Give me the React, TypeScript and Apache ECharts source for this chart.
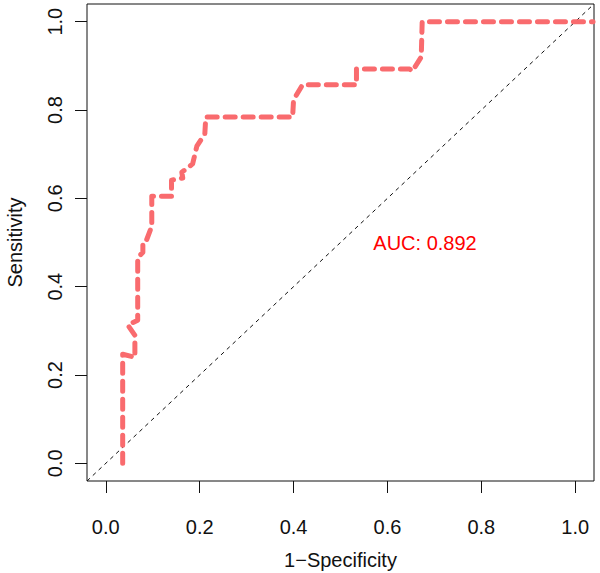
import React, { useEffect, useRef } from "react";
import * as echarts from "echarts";

// ROC curve points (1 - specificity, sensitivity), in drawing order
const fpr = [
  0.036, 0.036, 0.062, 0.062, 0.047, 0.068, 0.068, 0.079, 0.079, 0.087,
  0.098, 0.098, 0.14, 0.14, 0.164, 0.162, 0.185, 0.194, 0.211, 0.213,
  0.398, 0.4, 0.419, 0.534, 0.534, 0.647, 0.653, 0.672, 0.674, 1.038,
];
const tpr = [
  0.0, 0.247, 0.24, 0.29, 0.313, 0.324, 0.465, 0.478, 0.501, 0.506,
  0.537, 0.605, 0.605, 0.641, 0.646, 0.659, 0.678, 0.718, 0.746, 0.784,
  0.784, 0.823, 0.857, 0.857, 0.893, 0.893, 0.888, 0.92, 1.0, 1.0,
];

const xTicks = [0, 0.2, 0.4, 0.6, 0.8, 1.0];
const yTicks = [0, 0.2, 0.4, 0.6, 0.8, 1.0];

const auc = 0.892;
const aucPos = [0.68, 0.5];

// plot region spans the data range plus 4% on each side
const lo = -0.04;
const hi = 1.04;

const FONT = "'Liberation Sans', Arial, Helvetica, sans-serif";

export default function App() {
  const ref = useRef<HTMLDivElement>(null);

  useEffect(() => {
    if (!ref.current) return;
    const chart = echarts.init(ref.current, null, { renderer: "svg" });

    const left = 87;
    const top = 4;
    const width = 507;
    const height = 477;

    const axisCommon = {
      type: "value" as const,
      min: lo,
      max: hi,
      axisLine: { show: false, onZero: false },
      splitLine: { show: false },
    };

    const titleText = [
      {
        type: "text",
        x: left + width / 2,
        y: 560,
        style: {
          text: "1\u2212Specificity",
          fontSize: 20,
          fontFamily: FONT,
          fill: "#111",
          align: "center",
          verticalAlign: "middle",
        },
      },
      {
        type: "text",
        x: 15,
        y: top + height / 2,
        rotation: Math.PI / 2,
        style: {
          text: "Sensitivity",
          fontSize: 20,
          fontFamily: FONT,
          fill: "#111",
          align: "center",
          verticalAlign: "middle",
        },
      },
    ];

    chart.setOption({
      animation: false,
      backgroundColor: "#fff",
      grid: {
        left,
        top,
        width,
        height,
        show: true,
        borderColor: "#111",
        borderWidth: 1,
        backgroundColor: "transparent",
        containLabel: false,
        outerBoundsMode: "none",
      },
      xAxis: {
        ...axisCommon,
        axisTick: {
          show: true,
          inside: false,
          length: 12,
          customValues: xTicks,
          lineStyle: { color: "#111", width: 1 },
        },
        axisLabel: {
          customValues: xTicks,
          formatter: (v: number) => v.toFixed(1),
          margin: 36,
          fontSize: 20,
          color: "#111",
          fontFamily: FONT,
        },
      },
      yAxis: {
        ...axisCommon,
        axisTick: {
          show: true,
          inside: false,
          length: 12,
          customValues: yTicks,
          lineStyle: { color: "#111", width: 1 },
        },
        axisLabel: {
          customValues: yTicks,
          formatter: (v: number) => v.toFixed(1),
          rotate: 90,
          margin: 22,
          fontSize: 20,
          color: "#111",
          fontFamily: FONT,
        },
      },
      series: [
        {
          type: "line",
          data: [
            [lo, lo],
            [hi, hi],
          ],
          symbol: "none",
          silent: true,
          lineStyle: { color: "#111", width: 1, type: [4, 4] },
        },
        {
          type: "line",
          data: fpr.map((x, i) => [x, tpr[i]]),
          symbol: "none",
          silent: true,
          lineStyle: {
            color: "#F96B6E",
            width: 5,
            type: [10, 8],
            cap: "round",
            join: "round",
          },
        },
      ],
      graphic: titleText,
    });

    // AUC annotation placed at its data position on the plot
    const [ax, ay] = chart.convertToPixel({ gridIndex: 0 }, aucPos) as number[];
    chart.setOption({
      graphic: [
        ...titleText,
        {
          type: "text",
          x: ax,
          y: ay,
          style: {
            text: `AUC: ${auc.toFixed(3)}`,
            fontSize: 20,
            fontFamily: FONT,
            fill: "#FF0000",
            align: "center",
            verticalAlign: "middle",
          },
        },
      ],
    });

    return () => chart.dispose();
  }, []);

  return (
    <div
      ref={ref}
      style={{ position: "fixed", left: 0, top: 0, width: 600, height: 573 }}
    />
  );
}
